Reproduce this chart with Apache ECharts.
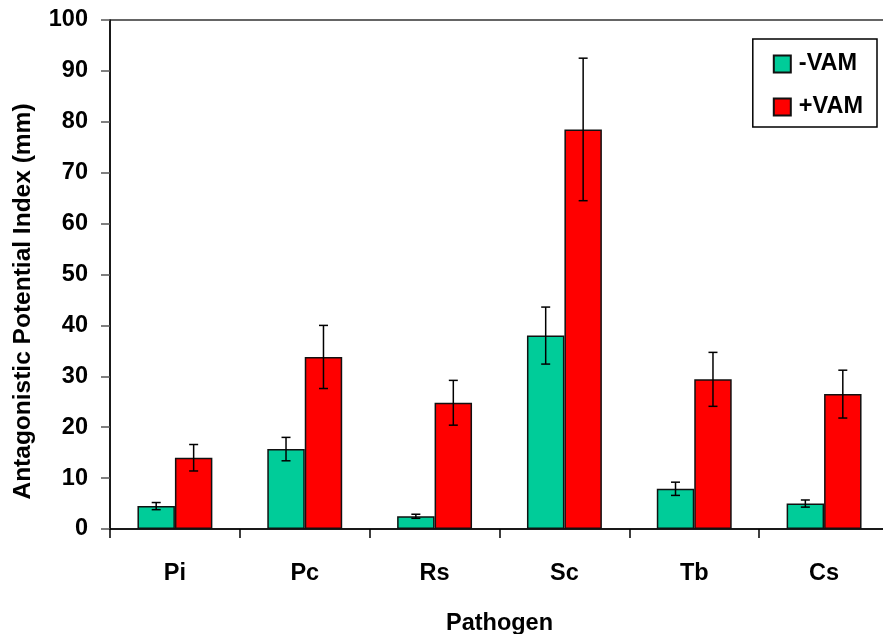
<!DOCTYPE html>
<html>
<head>
<meta charset="utf-8">
<script src="https://cdn.jsdelivr.net/npm/echarts@6/dist/echarts.min.js"></script>
<style>html,body{margin:0;padding:0;background:#fff;}#c{width:883px;height:634px;}</style>
</head>
<body>
<div id="c"></div>
<script>
var categories = ['Pi', 'Pc', 'Rs', 'Sc', 'Tb', 'Cs'];
var minusVAM = [4.5, 15.7, 2.5, 38.0, 7.9, 5.0];
var minusErr = [0.7, 2.3, 0.4, 5.6, 1.3, 0.7];
var plusVAM = [14.0, 33.8, 24.8, 78.5, 29.4, 26.5];
var plusErr = [2.6, 6.2, 4.4, 14.0, 5.3, 4.7];
var yTicks = [0, 10, 20, 30, 40, 50, 60, 70, 80, 90, 100];

var FONT = '"Liberation Sans", Arial, sans-serif';
var FS = 23.5;
var BAR_FRAC = 0.2885;

function errSeries(vals, errs, dir) {
  var data = vals.map(function (v, i) { return [i, v - errs[i], v + errs[i]]; });
  return {
    type: 'custom',
    silent: true,
    z: 10,
    renderItem: function (params, api) {
      var i = api.value(0);
      var bw = api.size([1, 0])[0];
      var off = dir * bw * BAR_FRAC / 2;
      var lo = api.coord([i, api.value(1)]);
      var hi = api.coord([i, api.value(2)]);
      var x = lo[0] + off;
      var cap = 4.5;
      var st = { stroke: '#000', lineWidth: 1.5 };
      return {
        type: 'group',
        children: [
          { type: 'line', shape: { x1: x, y1: lo[1], x2: x, y2: hi[1] }, style: st },
          { type: 'line', shape: { x1: x - cap, y1: lo[1], x2: x + cap, y2: lo[1] }, style: st },
          { type: 'line', shape: { x1: x - cap, y1: hi[1], x2: x + cap, y2: hi[1] }, style: st }
        ]
      };
    },
    encode: { x: 0, y: [1, 2] },
    data: data
  };
}

var chart = echarts.init(document.getElementById('c'), null, { renderer: 'canvas' });
chart.setOption({
  animation: false,
  backgroundColor: '#fff',
  textStyle: { fontFamily: FONT },
  grid: { left: 110, top: 20, width: 779, height: 509, show: true, borderColor: '#333', borderWidth: 1.5, containLabel: false, outerBoundsMode: 'none' },
  legend: {
    orient: 'vertical',
    right: 6,
    top: 39,
    itemWidth: 17,
    itemHeight: 17,
    itemGap: 19,
    icon: 'rect',
    padding: [13, 14, 8, 20],
    borderColor: '#000',
    borderWidth: 1.5,
    textStyle: { fontFamily: FONT, fontWeight: 'bold', fontSize: FS, color: '#000', padding: [0, 0, 0, 3] },
    data: ['-VAM', '+VAM']
  },
  xAxis: {
    type: 'category',
    data: categories,
    name: 'Pathogen',
    nameLocation: 'middle',
    nameGap: 83,
    nameTextStyle: { fontFamily: FONT, fontWeight: 'bold', fontSize: FS, color: '#000' },
    axisLine: { lineStyle: { color: '#000', width: 1.5 } },
    axisTick: { show: true, length: 9, lineStyle: { color: '#000', width: 1.5 } },
    axisLabel: { margin: 33, fontFamily: FONT, fontWeight: 'bold', fontSize: FS, color: '#000' },
    splitLine: { show: false }
  },
  yAxis: {
    type: 'value',
    min: 0,
    max: 100,
    interval: 10,
    name: 'Antagonistic Potential Index (mm)',
    nameLocation: 'middle',
    nameGap: 74,
    nameRotate: 90,
    nameTextStyle: { fontFamily: FONT, fontWeight: 'bold', fontSize: 24.5, color: '#000', padding: [0, 54, 0, 0] },
    axisLine: { show: true, lineStyle: { color: '#000', width: 1.5 } },
    axisTick: { show: true, length: 9, lineStyle: { color: '#555', width: 1.5 } },
    axisLabel: {
      margin: 22, fontFamily: FONT, fontWeight: 'bold', fontSize: FS, color: '#000',
      formatter: function (v) { return yTicks.indexOf(v) >= 0 ? String(v) : ''; }
    },
    splitLine: { show: false }
  },
  series: [
    {
      name: '-VAM', type: 'bar', data: minusVAM,
      barWidth: (BAR_FRAC * 100) + '%', barGap: '0%',
      itemStyle: { color: '#00CC99', borderColor: '#111', borderWidth: 1.5 }
    },
    {
      name: '+VAM', type: 'bar', data: plusVAM,
      barWidth: (BAR_FRAC * 100) + '%', barGap: '0%',
      itemStyle: { color: '#FF0000', borderColor: '#111', borderWidth: 1.5 }
    },
    errSeries(minusVAM, minusErr, -1),
    errSeries(plusVAM, plusErr, 1)
  ]
});
</script>
</body>
</html>
